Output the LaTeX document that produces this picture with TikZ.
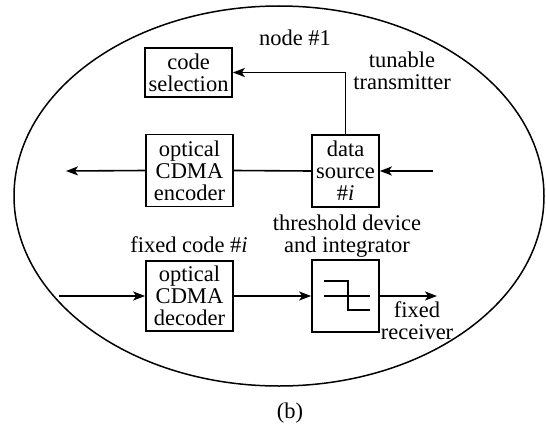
\documentclass[tikz,border=0pt]{standalone}
\usepackage{fontspec}
\setmainfont{Liberation Serif}
\usepackage{tikz}
\usetikzlibrary{arrows.meta, positioning, calc}

\begin{document}
\begin{tikzpicture}[x=1pt, y=-1pt,
        block/.style={rectangle, draw, line width=1.7pt, align=center, inner sep=0pt, font={\fontsize{22.5}{22}\selectfont}},
        label/.style={align=center, inner sep=0pt, font={\fontsize{22.5}{22}\selectfont}},
        arrow/.style={line width=1.6pt, -{Stealth[length=12pt, width=9pt, inset=3pt]}},
        link/.style={line width=1.6pt}
    ]
        \useasboundingbox (0,0) rectangle (546,428);

        % Enclosing node
        \draw [line width=1.5pt] (279,196) ellipse [x radius=265pt, y radius=190pt];

        % Blocks (Top Rows)
        \node (codesel) [block, minimum width=87pt, minimum height=49pt] at (188.5,72.5) {code\\selection};
        \node (encoder) [block, minimum width=87pt, minimum height=72pt] at (189.5,170.5) {optical\\CDMA\\encoder};
        \node (datasrc) [block, minimum width=67pt, minimum height=72pt] at (345.5,171) {data\\source\\\#\textit{i}};

        % Blocks (Bottom Row)
        \node (decoder) [block, minimum width=87pt, minimum height=70pt] at (189.5,296) {optical\\CDMA\\decoder};
        \node (thresh) [block, minimum width=67pt, minimum height=72pt] at (345.5,296) {};

        % Labels
        \node (title) [label] at (295,38) {node \#1};
        \node (txlabel) [label] at (402,71) {tunable\\transmitter};
        \node (thlabel) [label] at (347,236) {threshold device\\and integrator};
        \node (codelabel) [label] at (189,245) {fixed code \#\textit{i}};
        \node (rxlabel) [label] at (417,321) {fixed\\receiver};
        \node (caption) [label] at (290,413) {(b)};

        % Free ends
        \coordinate (txout) at (66,171);
        \coordinate (txin) at (433,171);
        \coordinate (rxin) at (59,296);
        \coordinate (rxout) at (437,296);

        % Flows - Transmitter
        \draw [arrow] (datasrc.north) |- (codesel.east);
        \draw [link] (encoder.east) -- (datasrc.west);
        \draw [arrow] (encoder.west) -- (txout);
        \draw [arrow] (txin) -- (datasrc.east);

        % Flows - Receiver
        \draw [arrow] (rxin) -- (decoder.west);
        \draw [arrow] (decoder.east) -- (thresh.west);
        \draw [arrow] (thresh.east) -- (rxout);

        % Threshold symbol
        \draw [link] ($(thresh.center)+(-21.5,-15)$) -- ++(24,0) -- ++(0,29) -- ++(22,0);
        \draw [link] ($(thresh.center)+(-21.5,0)$) -- ++(46,0);
    \end{tikzpicture}
\end{document}
